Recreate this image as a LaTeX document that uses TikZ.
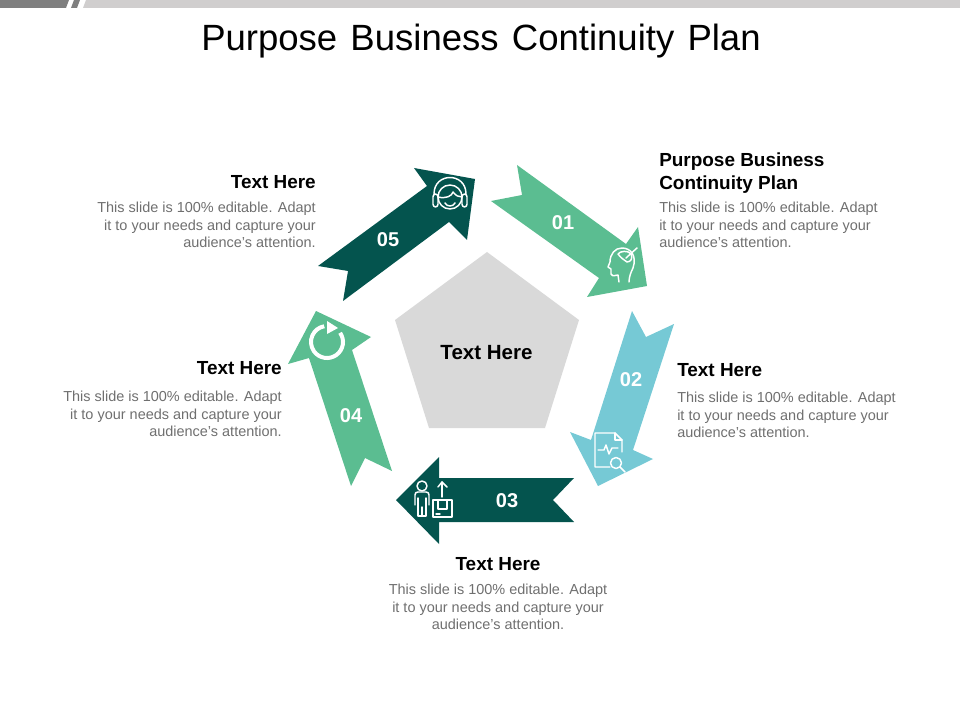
\documentclass[tikz,border=0pt]{standalone}
\usepackage{fontspec}
\setmainfont{Liberation Sans}
\definecolor{cgreen}{HTML}{5BBD91}
\definecolor{cdark}{HTML}{04544E}
\definecolor{cblue}{HTML}{76C9D5}
\definecolor{cbody}{HTML}{6F6F6F}
\definecolor{cbarl}{HTML}{D0CECE}
\definecolor{cbard}{HTML}{7F7F7F}
\definecolor{cpent}{HTML}{D9D9D9}
\tikzset{
  icon/.style={draw=white,line width=1.1pt,line cap=round,line join=round},
  numlabel/.style={text=white,font=\bfseries\fontsize{15}{18}\selectfont,inner sep=0pt},
  heading/.style={font=\bfseries\fontsize{14.2}{17.2}\selectfont,text=black,inner sep=0pt},
  bodytext/.style={font=\fontsize{10.85}{13.1}\selectfont,text=cbody,inner sep=0pt},
}
\begin{document}
\begin{tikzpicture}[x=0.75pt,y=-0.75pt]
\useasboundingbox (0,0) rectangle (960,720);
% top bar
\fill[cbard] (0,0) -- (69,0) -- (66,8) -- (0,8) -- cycle;
\fill[cbard] (74,0) -- (80,0) -- (77,8) -- (71,8) -- cycle;
\fill[cbarl] (86,0) -- (960,0) -- (960,8) -- (83,8) -- cycle;
\node[font=\fontsize{27.4}{32}\selectfont,inner sep=0pt] (title) at (481,41) {\spaceskip=9.9pt Purpose Business Continuity Plan};
% pentagon
\fill[cpent] (487,252) -- (579,320) -- (545,428) -- (429,428) -- (395,320) -- cycle;
\node[inner sep=0pt,font=\bfseries\fontsize{15.4}{18}\selectfont] (centre) at (486.5,353) {Text Here};
% arrows
\fill[cgreen] (517,165) -- (522,195) -- (491,201) -- (599,278) -- (587,297) -- (647,286) -- (638,227) -- (626,244) -- cycle;
\fill[cblue] (632,311) -- (646,337) -- (674,324) -- (633,450) -- (653,459) -- (598,486) -- (570,432) -- (591,440) -- cycle;
\fill[cdark] (574,478) -- (553,500) -- (574,522) -- (439,522) -- (439,544) -- (396,500) -- (439,457) -- (439,478) -- cycle;
\fill[cgreen] (316,311) -- (371,337) -- (352,350) -- (392,471) -- (365,458) -- (351,486) -- (309,358) -- (288,364) -- cycle;
\fill[cdark] (318,266) -- (348,271) -- (343,301) -- (449,222) -- (467,240) -- (475,179) -- (414,168) -- (427,186) -- cycle;
% numbers
\node[numlabel] (n1) at (563,223) {01};
\node[numlabel] (n2) at (631,380) {02};
\node[numlabel] (n3) at (507,501) {03};
\node[numlabel] (n4) at (351,416) {04};
\node[numlabel] (n5) at (388,240) {05};
% icon 01: head
\draw[icon] (629,282) .. controls (629,277) and (631,272) .. (633,268) .. controls (637,256) and (631,248) .. (622,248) .. controls (615,248) and (610,254) .. (610,262) -- (608,267) -- (611,269) -- (611,274) .. controls (611,276) and (613,276) .. (618,275) -- (619,282);
\draw[icon] (637,248) -- (626,258);
\draw[icon] (618,254) .. controls (620,251) and (628,250) .. (631,254) .. controls (633,258) and (631,262) .. (627,262) .. controls (624,260) and (621,258) .. (618,254);
% icon 05: headset
\draw[icon] (450,197) circle (12);
\draw[icon] (434,194) .. controls (434,172) and (466,172) .. (466,194);
\draw[icon,rounded corners=2] (433,194) rectangle (438,207);
\draw[icon,rounded corners=2] (462,194) rectangle (467,207);
\draw[icon] (438,197) .. controls (446,199) and (452,196) .. (453,192) .. controls (456,196) and (459,197) .. (462,197);
\draw[icon] (445,203) .. controls (447,207) and (453,207) .. (455,203);
% icon 02: document
\draw[icon] (610,467) -- (595,467) -- (595,433) -- (615,433) -- (622,440) -- (622,452);
\draw[icon] (615,433) -- (615,440) -- (622,440);
\draw[icon] (598,450) -- (604,450) -- (606,445) -- (609,454) -- (612,448) -- (618,448);
\draw[icon] (616,463) circle (5.5);
\draw[icon] (620,467) -- (625,472);
% icon 03: person and box
\draw[icon] (422,486) circle (5);
\draw[icon] (415,505) -- (415,495) .. controls (415,493) and (416,492) .. (418,492) -- (426,492) .. controls (428,492) and (429,493) .. (429,495) -- (429,505);
\draw[icon] (418,498) -- (418,516) -- (426,516) -- (426,498);
\draw[icon] (422,507) -- (422,516);
\draw[icon] (433,500) rectangle (452,517);
\draw[icon] (438,500) -- (438,509) -- (447,509) -- (447,500);
\draw[icon] (436,514) -- (440,514);
\draw[icon] (442,497) -- (442,482);
\draw[icon] (438,487) -- (442,482) -- (447,487);
% icon 04: cycle
\draw[draw=white,line width=3pt] (327,342) ++(-35:16) arc (-35:260:16);
\fill[white] (327,321) -- (338,328) -- (327,334) -- cycle;
% texts
\node[heading,anchor=north east,align=right] (h5) at (316,175.5) {Text Here};
\node[bodytext,anchor=north east,align=right] (b5) at (316,202) {This slide is 100\% editable. Adapt\\it to your needs and capture your\\audience's attention.};
\node[heading,anchor=north west,align=left] (h1) at (659,152.5) {Purpose Business\\Continuity Plan};
\node[bodytext,anchor=north west,align=left] (b1) at (659,202) {This slide is 100\% editable. Adapt\\it to your needs and capture your\\audience's attention.};
\node[heading,anchor=north west,align=left] (h2) at (677,363.5) {Text Here};
\node[bodytext,anchor=north west,align=left] (b2) at (677,392) {This slide is 100\% editable. Adapt\\it to your needs and capture your\\audience's attention.};
\node[heading,anchor=north,align=center] (h3) at (498,557.5) {Text Here};
\node[bodytext,anchor=north,align=center] (b3) at (498,584) {This slide is 100\% editable. Adapt\\it to your needs and capture your\\audience's attention.};
\node[heading,anchor=north east,align=right] (h4) at (282,361.5) {Text Here};
\node[bodytext,anchor=north east,align=right] (b4) at (282,391) {This slide is 100\% editable. Adapt\\it to your needs and capture your\\audience's attention.};
\end{tikzpicture}
\end{document}
